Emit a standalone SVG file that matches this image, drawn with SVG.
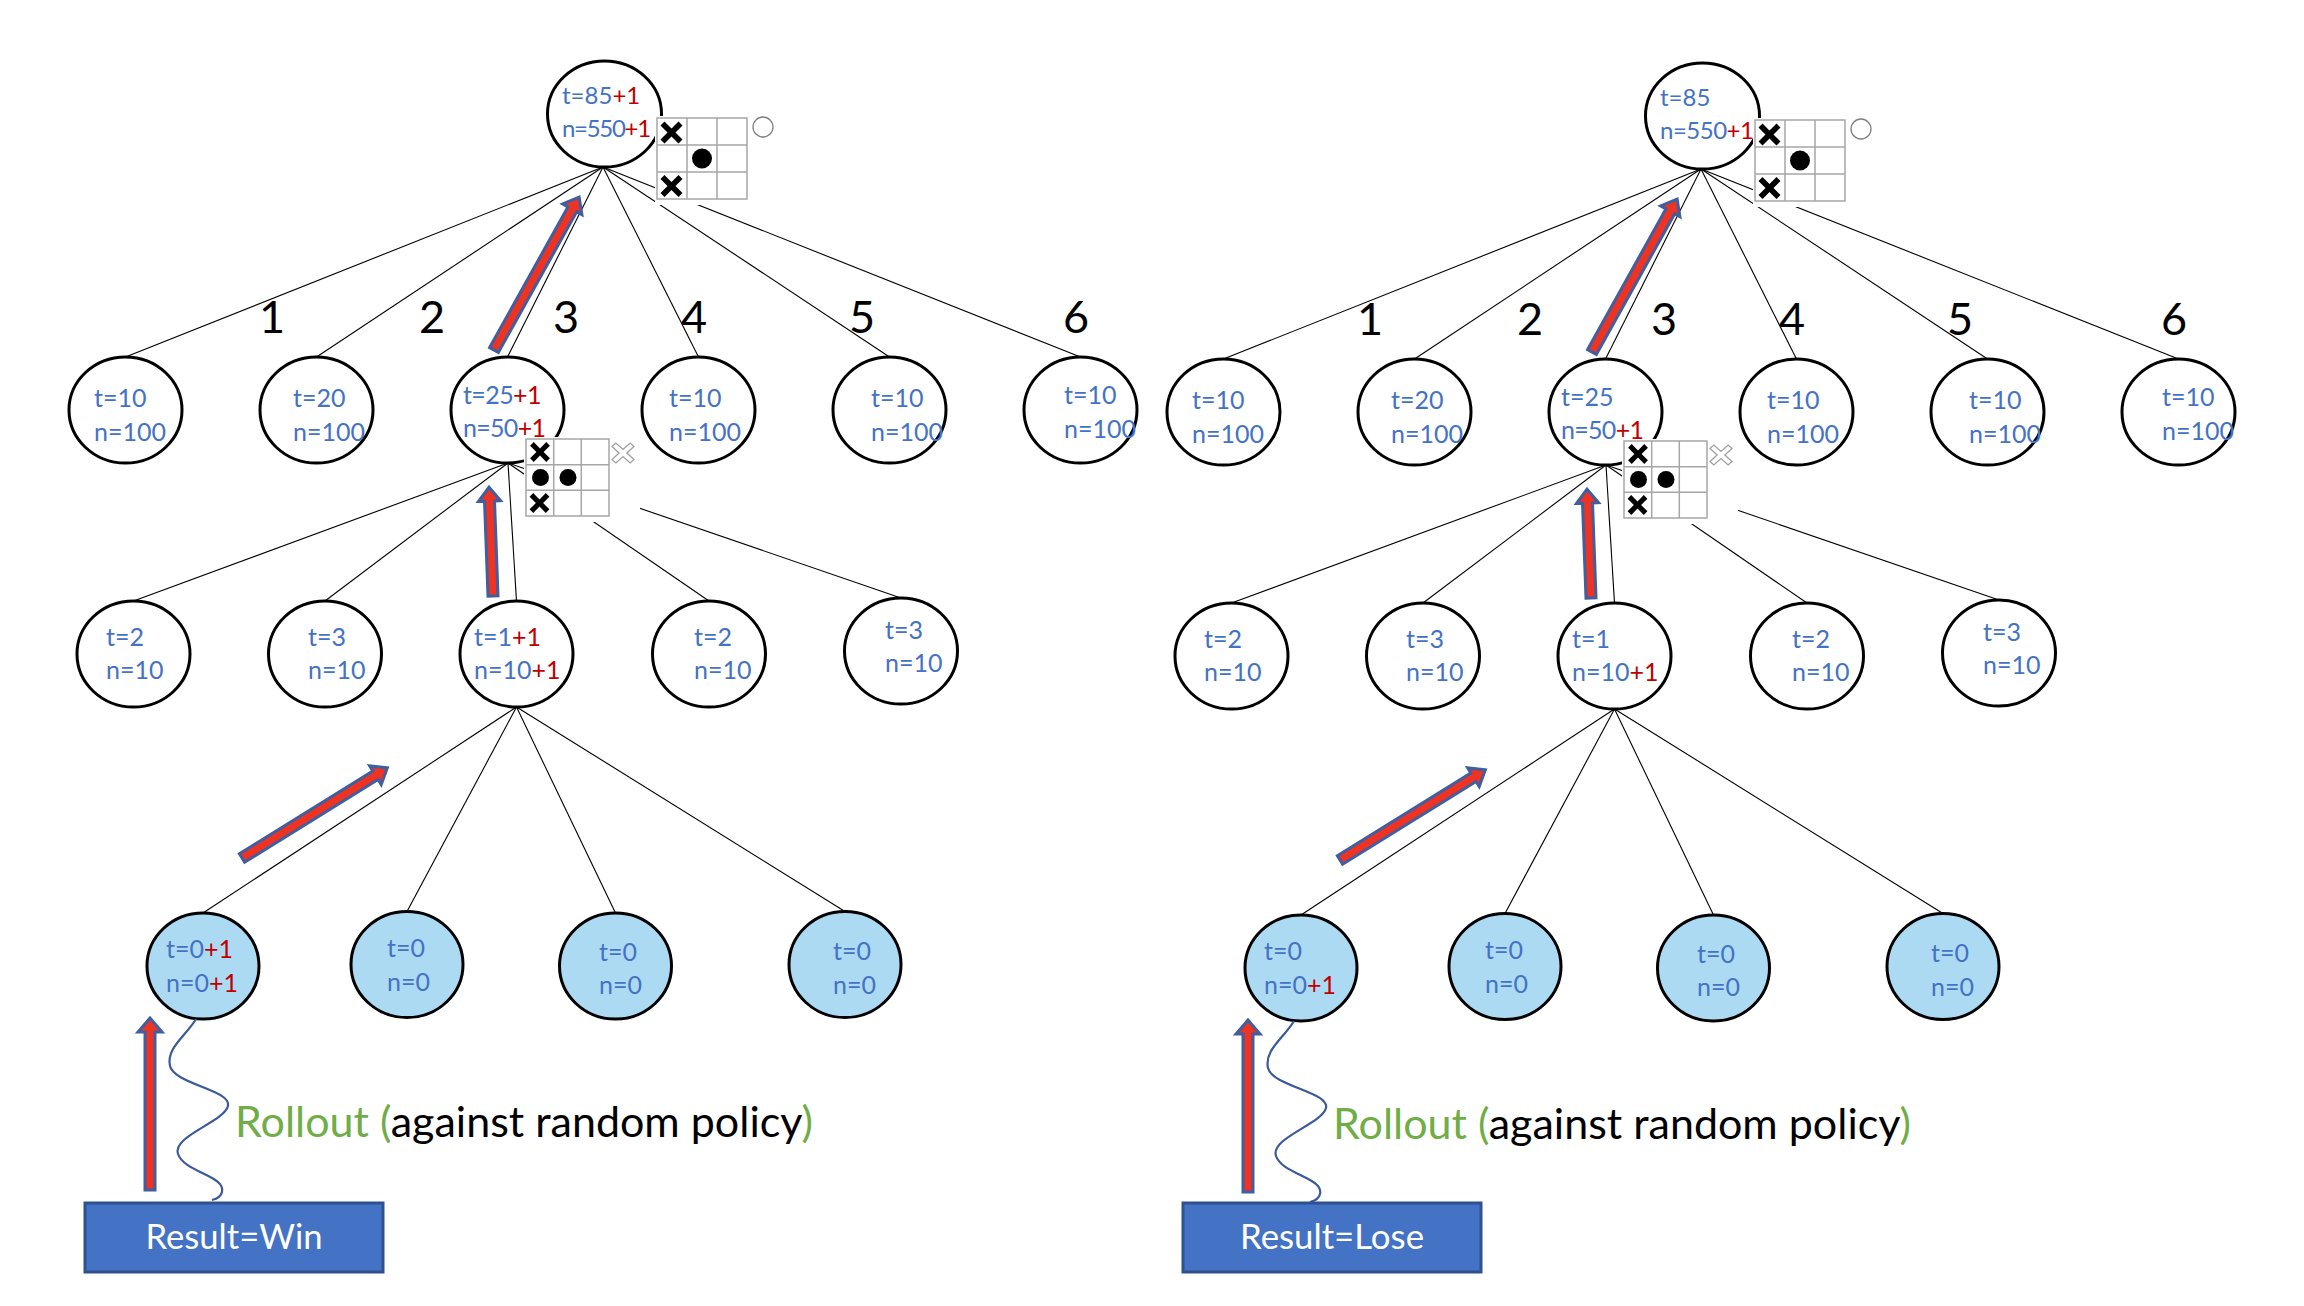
<svg xmlns="http://www.w3.org/2000/svg" width="2304" height="1306" viewBox="0 0 2304 1306">
<style>
.node{fill:#fff;stroke:#000;stroke-width:3}
.leaf{fill:#ADDAF3;stroke:#000;stroke-width:3}
.edge{stroke:#000;stroke-width:1.1;fill:none}
.t{font-family:Lato,'Liberation Sans',sans-serif;font-size:25px;fill:#4472C4}
.rt{font-size:24px}
.r{fill:#C00000}
.num{font-family:Lato,'Liberation Sans',sans-serif;font-size:45px;fill:#000;text-anchor:middle}
.arrow{fill:#EE3322;stroke:#3F5FA0;stroke-width:3}
.bg{fill:#fff}
.grid{fill:none;stroke:#A6A6A6;stroke-width:1.5}
.mark{fill:#000}
.ghost{fill:#fff;stroke:#A0A0A0;stroke-width:1.2}
.wave{fill:none;stroke:#3A5A98;stroke-width:2.2}
.box{fill:#4472C4;stroke:#2F528F;stroke-width:3}
.res{font-family:Lato,'Liberation Sans',sans-serif;font-size:34px;fill:#fff;text-anchor:middle}
.roll{font-family:Lato,'Liberation Sans',sans-serif;font-size:43px;fill:#000}
.g{fill:#70AD47}
</style>
<defs>
<polygon id="xmark" points="-11,-7 -7,-11 0,-4 7,-11 11,-7 4,0 11,7 7,11 0,4 -7,11 -11,7 -4,0"/>
<polygon id="xghost" points="-10,-6.5 -6.5,-10 0,-3.5 6.5,-10 10,-6.5 3.5,0 10,6.5 6.5,10 0,3.5 -6.5,10 -10,6.5 -3.5,0"/>
</defs>
<rect width="2304" height="1306" fill="#fff"/>

<!-- LEFT TREE -->
<g id="left-tree">
<g id="connectors-left">
<line class="edge" x1="603" y1="167" x2="125.5" y2="357"/>
<line class="edge" x1="603" y1="167" x2="316.5" y2="357"/>
<line class="edge" x1="603" y1="167" x2="507.5" y2="357"/>
<line class="edge" x1="603" y1="167" x2="698.5" y2="357"/>
<line class="edge" x1="603" y1="167" x2="889.5" y2="357"/>
<line class="edge" x1="603" y1="167" x2="1080.5" y2="357"/>
<line class="edge" x1="508" y1="463" x2="133.5" y2="601"/>
<line class="edge" x1="508" y1="463" x2="325" y2="601"/>
<line class="edge" x1="508" y1="463" x2="516.5" y2="601"/>
<line class="edge" x1="508" y1="463" x2="709" y2="601"/>
<line class="edge" x1="508" y1="463" x2="901" y2="598"/>
<line class="edge" x1="516.5" y1="707" x2="203" y2="913"/>
<line class="edge" x1="516.5" y1="707" x2="407" y2="911.5"/>
<line class="edge" x1="516.5" y1="707" x2="615.5" y2="913"/>
<line class="edge" x1="516.5" y1="707" x2="845" y2="911.5"/>
</g>
<g id="L-root">
<ellipse class="node" cx="604.5" cy="114" rx="57" ry="53"/>
<text class="t rt" x="562" y="104">t=85<tspan class="r">+1</tspan></text>
<text class="t rt" x="562" y="137" letter-spacing="-1.3">n=550<tspan class="r">+1</tspan></text>
</g>
<g id="L-n1"><ellipse class="node" cx="125.5" cy="410" rx="56.5" ry="53"/>
<text class="t" x="94" y="407">t=10</text><text class="t" x="94" y="441">n=100</text></g>
<g id="L-n2"><ellipse class="node" cx="316.5" cy="410" rx="56.5" ry="53"/>
<text class="t" x="293" y="407">t=20</text><text class="t" x="293" y="441">n=100</text></g>
<g id="L-n3"><ellipse class="node" cx="507.5" cy="410" rx="56.5" ry="53"/>
<text class="t" x="463" y="404" letter-spacing="-0.6">t=25<tspan class="r">+1</tspan></text><text class="t" x="463" y="437" letter-spacing="-0.7">n=50<tspan class="r">+1</tspan></text></g>
<g id="L-n4"><ellipse class="node" cx="698.5" cy="410" rx="56.5" ry="53"/>
<text class="t" x="669" y="407">t=10</text><text class="t" x="669" y="441">n=100</text></g>
<g id="L-n5"><ellipse class="node" cx="889.5" cy="410" rx="56.5" ry="53"/>
<text class="t" x="871" y="407">t=10</text><text class="t" x="871" y="441">n=100</text></g>
<g id="L-n6"><ellipse class="node" cx="1080.5" cy="410" rx="56.5" ry="53"/>
<text class="t" x="1064" y="404">t=10</text><text class="t" x="1064" y="438">n=100</text></g>

<g id="L-m1"><ellipse class="node" cx="133.5" cy="654" rx="56.5" ry="53"/>
<text class="t" x="106" y="646">t=2</text><text class="t" x="106" y="679">n=10</text></g>
<g id="L-m2"><ellipse class="node" cx="325" cy="654" rx="56.5" ry="53"/>
<text class="t" x="308" y="646">t=3</text><text class="t" x="308" y="679">n=10</text></g>
<g id="L-m3"><ellipse class="node" cx="516.5" cy="654" rx="56.5" ry="53"/>
<text class="t" x="474" y="646">t=1<tspan class="r">+1</tspan></text><text class="t" x="474" y="679">n=10<tspan class="r">+1</tspan></text></g>
<g id="L-m4"><ellipse class="node" cx="709" cy="654" rx="56.5" ry="53"/>
<text class="t" x="694" y="646">t=2</text><text class="t" x="694" y="679">n=10</text></g>
<g id="L-m5"><ellipse class="node" cx="901" cy="651" rx="56.5" ry="53"/>
<text class="t" x="885" y="639">t=3</text><text class="t" x="885" y="672">n=10</text></g>

<g id="L-l1"><ellipse class="leaf" cx="203" cy="966" rx="56" ry="53"/>
<text class="t" x="166" y="958">t=0<tspan class="r">+1</tspan></text><text class="t" x="166" y="992">n=0<tspan class="r">+1</tspan></text></g>
<g id="L-l2"><ellipse class="leaf" cx="407" cy="964.5" rx="56" ry="53"/>
<text class="t" x="387" y="957">t=0</text><text class="t" x="387" y="991">n=0</text></g>
<g id="L-l3"><ellipse class="leaf" cx="615.5" cy="966" rx="56" ry="53"/>
<text class="t" x="599" y="961">t=0</text><text class="t" x="599" y="994">n=0</text></g>
<g id="L-l4"><ellipse class="leaf" cx="845" cy="964.5" rx="56" ry="53"/>
<text class="t" x="833" y="960">t=0</text><text class="t" x="833" y="994">n=0</text></g>

<g id="L-board-root">
<rect class="bg" x="655" y="116" width="120" height="89"/>
<rect class="grid" x="657" y="118" width="90" height="81"/>
<path class="grid" d="M687,118V199M717,118V199M657,145H747M657,172H747"/>
<use href="#xmark" x="671.5" y="132.5"/>
<circle class="mark" cx="702" cy="158.5" r="10"/>
<use href="#xmark" x="671.5" y="186"/>
<circle cx="763" cy="127" r="10" fill="#fff" stroke="#808080" stroke-width="1.3"/>
</g>
<g id="L-board-n3">
<rect class="bg" x="524" y="437" width="116" height="85"/>
<rect class="grid" x="526" y="439" width="83" height="77"/>
<path class="grid" d="M553.7,439V516M581.3,439V516M526,464.7H609M526,490.3H609"/>
<use href="#xmark" x="540" y="452" transform="translate(540 452) scale(0.9) translate(-540 -452)"/>
<circle class="mark" cx="540.5" cy="477.5" r="8.5"/>
<circle class="mark" cx="568" cy="477.5" r="8.5"/>
<use href="#xmark" x="539.5" y="503" transform="translate(539.5 503) scale(0.9) translate(-539.5 -503)"/>
<use href="#xghost" class="ghost" transform="translate(623 453) scale(1.1 1)"/>
</g>

<g id="L-labels">
<text class="num" x="272" y="333">1</text>
<text class="num" x="432" y="333">2</text>
<text class="num" x="566" y="333">3</text>
<text class="num" x="694" y="333">4</text>
<text class="num" x="862" y="333">5</text>
<text class="num" x="1076" y="333">6</text>
</g>

<g id="L-arrows">
<polygon class="arrow" transform="translate(494 350) rotate(-60.9)" points="0,-5 161,-5 161,-11 175,0 161,11 161,5 0,5"/>
<polygon class="arrow" transform="translate(493 596) rotate(-92.1)" points="0,-5 95,-5 95,-11 109,0 95,11 95,5 0,5"/>
<polygon class="arrow" transform="translate(242 858) rotate(-31.8)" points="0,-5 157,-5 157,-11 171,0 157,11 157,5 0,5"/>
<polygon class="arrow" transform="translate(150 1190) rotate(-90)" points="0,-5 158,-5 158,-12 172,0 158,12 158,5 0,5"/>
</g>

<g id="L-rollout">
<path class="wave" d="M196,1019 C186,1036 166,1048 170,1066 C174,1084 232,1090 228,1106 C224,1122 172,1136 178,1154 C184,1172 226,1176 222,1192 C221,1197 216,1199 212,1200"/>
<text class="roll" x="235" y="1137" textLength="578" lengthAdjust="spacingAndGlyphs"><tspan class="g">Rollout (</tspan>against random policy<tspan class="g">)</tspan></text>
</g>
<g id="L-result">
<rect class="box" x="85" y="1203" width="298" height="69"/>
<text class="res" x="234" y="1249" textLength="177" lengthAdjust="spacingAndGlyphs">Result=Win</text>
</g>
</g>

<!-- RIGHT TREE -->
<g id="right-tree" transform="translate(1098 2)">
<g id="connectors-right">
<line class="edge" x1="603" y1="167" x2="125.5" y2="357"/>
<line class="edge" x1="603" y1="167" x2="316.5" y2="357"/>
<line class="edge" x1="603" y1="167" x2="507.5" y2="357"/>
<line class="edge" x1="603" y1="167" x2="698.5" y2="357"/>
<line class="edge" x1="603" y1="167" x2="889.5" y2="357"/>
<line class="edge" x1="603" y1="167" x2="1080.5" y2="357"/>
<line class="edge" x1="508" y1="463" x2="133.5" y2="601"/>
<line class="edge" x1="508" y1="463" x2="325" y2="601"/>
<line class="edge" x1="508" y1="463" x2="516.5" y2="601"/>
<line class="edge" x1="508" y1="463" x2="709" y2="601"/>
<line class="edge" x1="508" y1="463" x2="901" y2="598"/>
<line class="edge" x1="516.5" y1="707" x2="203" y2="913"/>
<line class="edge" x1="516.5" y1="707" x2="407" y2="911.5"/>
<line class="edge" x1="516.5" y1="707" x2="615.5" y2="913"/>
<line class="edge" x1="516.5" y1="707" x2="845" y2="911.5"/>
</g>
<g id="R-root">
<ellipse class="node" cx="604.5" cy="114" rx="57" ry="53"/>
<text class="t rt" x="562" y="104">t=85</text>
<text class="t rt" x="562" y="137" letter-spacing="-0.5">n=550<tspan class="r">+1</tspan></text>
</g>
<g id="R-n1"><ellipse class="node" cx="125.5" cy="410" rx="56.5" ry="53"/>
<text class="t" x="94" y="407">t=10</text><text class="t" x="94" y="441">n=100</text></g>
<g id="R-n2"><ellipse class="node" cx="316.5" cy="410" rx="56.5" ry="53"/>
<text class="t" x="293" y="407">t=20</text><text class="t" x="293" y="441">n=100</text></g>
<g id="R-n3"><ellipse class="node" cx="507.5" cy="410" rx="56.5" ry="53"/>
<text class="t" x="463" y="404">t=25</text><text class="t" x="463" y="437" letter-spacing="-0.7">n=50<tspan class="r">+1</tspan></text></g>
<g id="R-n4"><ellipse class="node" cx="698.5" cy="410" rx="56.5" ry="53"/>
<text class="t" x="669" y="407">t=10</text><text class="t" x="669" y="441">n=100</text></g>
<g id="R-n5"><ellipse class="node" cx="889.5" cy="410" rx="56.5" ry="53"/>
<text class="t" x="871" y="407">t=10</text><text class="t" x="871" y="441">n=100</text></g>
<g id="R-n6"><ellipse class="node" cx="1080.5" cy="410" rx="56.5" ry="53"/>
<text class="t" x="1064" y="404">t=10</text><text class="t" x="1064" y="438">n=100</text></g>

<g id="R-m1"><ellipse class="node" cx="133.5" cy="654" rx="56.5" ry="53"/>
<text class="t" x="106" y="646">t=2</text><text class="t" x="106" y="679">n=10</text></g>
<g id="R-m2"><ellipse class="node" cx="325" cy="654" rx="56.5" ry="53"/>
<text class="t" x="308" y="646">t=3</text><text class="t" x="308" y="679">n=10</text></g>
<g id="R-m3"><ellipse class="node" cx="516.5" cy="654" rx="56.5" ry="53"/>
<text class="t" x="474" y="646">t=1</text><text class="t" x="474" y="679">n=10<tspan class="r">+1</tspan></text></g>
<g id="R-m4"><ellipse class="node" cx="709" cy="654" rx="56.5" ry="53"/>
<text class="t" x="694" y="646">t=2</text><text class="t" x="694" y="679">n=10</text></g>
<g id="R-m5"><ellipse class="node" cx="901" cy="651" rx="56.5" ry="53"/>
<text class="t" x="885" y="639">t=3</text><text class="t" x="885" y="672">n=10</text></g>

<g id="R-l1"><ellipse class="leaf" cx="203" cy="966" rx="56" ry="53"/>
<text class="t" x="166" y="958">t=0</text><text class="t" x="166" y="992">n=0<tspan class="r">+1</tspan></text></g>
<g id="R-l2"><ellipse class="leaf" cx="407" cy="964.5" rx="56" ry="53"/>
<text class="t" x="387" y="957">t=0</text><text class="t" x="387" y="991">n=0</text></g>
<g id="R-l3"><ellipse class="leaf" cx="615.5" cy="966" rx="56" ry="53"/>
<text class="t" x="599" y="961">t=0</text><text class="t" x="599" y="994">n=0</text></g>
<g id="R-l4"><ellipse class="leaf" cx="845" cy="964.5" rx="56" ry="53"/>
<text class="t" x="833" y="960">t=0</text><text class="t" x="833" y="994">n=0</text></g>

<g id="R-board-root">
<rect class="bg" x="655" y="116" width="120" height="89"/>
<rect class="grid" x="657" y="118" width="90" height="81"/>
<path class="grid" d="M687,118V199M717,118V199M657,145H747M657,172H747"/>
<use href="#xmark" x="671.5" y="132.5"/>
<circle class="mark" cx="702" cy="158.5" r="10"/>
<use href="#xmark" x="671.5" y="186"/>
<circle cx="763" cy="127" r="10" fill="#fff" stroke="#808080" stroke-width="1.3"/>
</g>
<g id="R-board-n3">
<rect class="bg" x="524" y="437" width="116" height="85"/>
<rect class="grid" x="526" y="439" width="83" height="77"/>
<path class="grid" d="M553.7,439V516M581.3,439V516M526,464.7H609M526,490.3H609"/>
<use href="#xmark" x="540" y="452" transform="translate(540 452) scale(0.9) translate(-540 -452)"/>
<circle class="mark" cx="540.5" cy="477.5" r="8.5"/>
<circle class="mark" cx="568" cy="477.5" r="8.5"/>
<use href="#xmark" x="539.5" y="503" transform="translate(539.5 503) scale(0.9) translate(-539.5 -503)"/>
<use href="#xghost" class="ghost" transform="translate(623 453) scale(1.1 1)"/>
</g>

<g id="R-labels">
<text class="num" x="272" y="333">1</text>
<text class="num" x="432" y="333">2</text>
<text class="num" x="566" y="333">3</text>
<text class="num" x="694" y="333">4</text>
<text class="num" x="862" y="333">5</text>
<text class="num" x="1076" y="333">6</text>
</g>

<g id="R-arrows">
<polygon class="arrow" transform="translate(494 350) rotate(-60.9)" points="0,-5 161,-5 161,-11 175,0 161,11 161,5 0,5"/>
<polygon class="arrow" transform="translate(493 596) rotate(-92.1)" points="0,-5 95,-5 95,-11 109,0 95,11 95,5 0,5"/>
<polygon class="arrow" transform="translate(242 858) rotate(-31.8)" points="0,-5 157,-5 157,-11 171,0 157,11 157,5 0,5"/>
<polygon class="arrow" transform="translate(150 1190) rotate(-90)" points="0,-5 158,-5 158,-12 172,0 158,12 158,5 0,5"/>
</g>

<g id="R-rollout">
<path class="wave" d="M196,1019 C186,1036 166,1048 170,1066 C174,1084 232,1090 228,1106 C224,1122 172,1136 178,1154 C184,1172 226,1176 222,1192 C221,1197 216,1199 212,1200"/>
<text class="roll" x="235" y="1137" textLength="578" lengthAdjust="spacingAndGlyphs"><tspan class="g">Rollout (</tspan>against random policy<tspan class="g">)</tspan></text>
</g>
<g id="R-result">
<rect class="box" x="85" y="1201" width="298" height="69"/>
<text class="res" x="234" y="1247" textLength="184" lengthAdjust="spacingAndGlyphs">Result=Lose</text>
</g>
</g>
</svg>
